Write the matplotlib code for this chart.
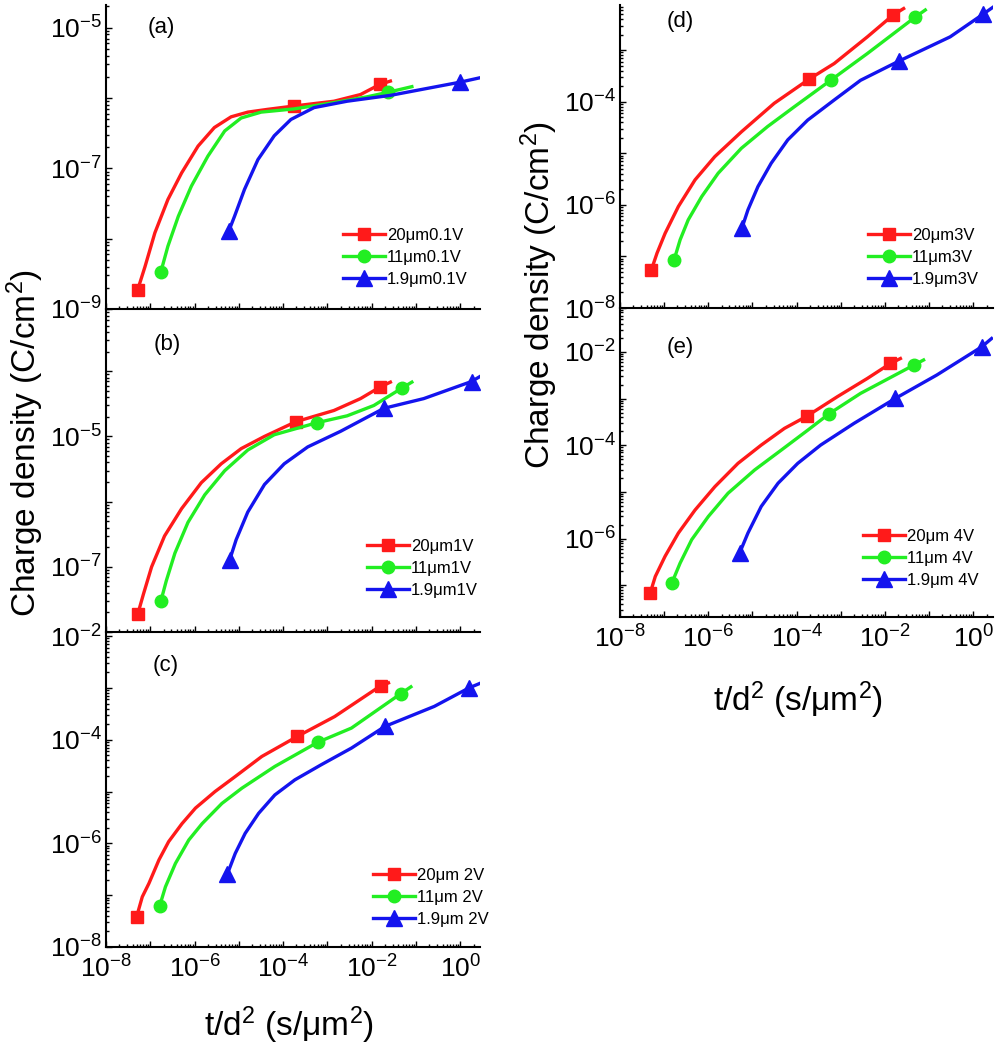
import numpy as np
import matplotlib
matplotlib.use('Agg')
import matplotlib.pyplot as plt
from matplotlib import ticker

plt.rcParams['font.family'] = ['Liberation Sans', 'DejaVu Sans']
plt.rcParams['mathtext.fontset'] = 'custom'
plt.rcParams['mathtext.rm'] = 'Liberation Sans'
plt.rcParams['mathtext.it'] = 'Liberation Sans:italic'
plt.rcParams['mathtext.default'] = 'regular'

# ---- data (t/d^2 in s/um^2, charge density in C/cm^2) ----
# (a) 0.1 V
a_red_x = [5.2e-8, 7.6e-8, 1.27e-7, 2.5e-7, 5.1e-7, 1.2e-6, 2.8e-6, 6.7e-6, 1.6e-5, 4.5e-5, 1.78e-4, 1.41e-3, 5.6e-3, 1.53e-2, 2.65e-2]
a_red_y = [1.88e-9, 4.0e-9, 1.21e-8, 3.6e-8, 8.6e-8, 2.07e-7, 3.8e-7, 5.4e-7, 6.3e-7, 6.9e-7, 7.7e-7, 9.0e-7, 1.12e-6, 1.56e-6, 1.74e-6]
a_green_x = [1.74e-7, 2.5e-7, 4.3e-7, 8.5e-7, 2.0e-6, 4.8e-6, 1.13e-5, 3.2e-5, 1.78e-4, 1.41e-3, 7.9e-3, 2.4e-2, 8.1e-2]
a_green_y = [3.4e-9, 7.8e-9, 2.08e-8, 5.6e-8, 1.49e-7, 3.4e-7, 5.2e-7, 6.3e-7, 7.0e-7, 8.6e-7, 1.04e-6, 1.21e-6, 1.45e-6]
a_blue_x = [5.9e-6, 8.0e-6, 1.34e-5, 2.7e-5, 6.3e-5, 1.5e-4, 5.0e-4, 2.8e-3, 2.65e-2, 1.0, 2.8]
a_blue_y = [1.27e-8, 2.08e-8, 5.0e-8, 1.33e-7, 2.9e-7, 4.95e-7, 7.3e-7, 9.0e-7, 1.09e-6, 1.68e-6, 1.94e-6]
a_marks = [[0, 10, 13], [0, 11], [0, 9]]

# (b) 1 V
b_red_x = [5.2e-8, 7.0e-8, 1.07e-7, 2.1e-7, 5.1e-7, 1.42e-6, 4.0e-6, 1.13e-5, 3.8e-5, 1.94e-4, 1.41e-3, 5.6e-3, 1.53e-2, 2.65e-2]
b_red_y = [1.87e-8, 3.8e-8, 9.95e-8, 2.97e-7, 7.8e-7, 1.95e-6, 3.8e-6, 6.5e-6, 1.0e-5, 1.68e-5, 2.5e-5, 3.8e-5, 5.7e-5, 6.8e-5]
b_green_x = [1.74e-7, 2.3e-7, 3.6e-7, 7.1e-7, 1.7e-6, 4.8e-6, 1.6e-5, 6.3e-5, 5.75e-4, 2.8e-3, 1.12e-2, 4.8e-2, 8.1e-2]
b_green_y = [3.0e-8, 6.1e-8, 1.62e-7, 4.8e-7, 1.27e-6, 2.98e-6, 6.2e-6, 1.06e-5, 1.62e-5, 2.07e-5, 2.98e-5, 5.5e-5, 6.8e-5]
b_blue_x = [6.2e-6, 8.7e-6, 1.59e-5, 3.8e-5, 1.06e-4, 3.6e-4, 2.0e-3, 1.9e-2, 0.15, 1.8, 2.8]
b_blue_y = [1.27e-7, 2.6e-7, 6.9e-7, 1.83e-6, 3.8e-6, 6.9e-6, 1.2e-5, 2.7e-5, 3.8e-5, 6.95e-5, 8.3e-5]
b_marks = [[0, 9, 12], [0, 8, 11], [0, 7, 9]]

# (c) 2 V
c_red_x = [4.9e-8, 6.6e-8, 9.3e-8, 1.57e-7, 2.6e-7, 5.2e-7, 1.05e-6, 2.9e-6, 8.3e-6, 3.3e-5, 2.1e-4, 1.46e-3, 1.63e-2, 2.4e-2]
c_red_y = [3.8e-8, 9.3e-8, 1.68e-7, 4.8e-7, 1.08e-6, 2.4e-6, 4.8e-6, 1.0e-5, 1.95e-5, 4.75e-5, 1.16e-4, 2.8e-4, 1.11e-3, 1.25e-3]
c_green_x = [1.62e-7, 2.2e-7, 3.7e-7, 7.4e-7, 1.48e-6, 4.15e-6, 1.17e-5, 6.5e-5, 6.0e-4, 3.5e-3, 4.6e-2, 7.7e-2]
c_green_y = [6.1e-8, 1.45e-7, 4.1e-7, 1.16e-6, 2.4e-6, 5.9e-6, 1.16e-5, 3.05e-5, 8.9e-5, 1.68e-4, 7.8e-4, 1.05e-3]
c_blue_x = [5.5e-6, 8.3e-6, 1.39e-5, 2.8e-5, 6.5e-5, 1.84e-4, 7.3e-4, 3.5e-3, 2.0e-2, 0.26, 1.58, 2.7]
c_blue_y = [2.55e-7, 6.4e-7, 1.56e-6, 3.8e-6, 8.6e-6, 1.68e-5, 3.3e-5, 6.9e-5, 1.81e-4, 4.4e-4, 1.0e-3, 1.21e-3]
c_marks = [[0, 10, 12], [0, 8, 10], [0, 8, 10]]

# (d) 3 V
d_red_x = [5.1e-8, 6.9e-8, 1.05e-7, 2.1e-7, 5.0e-7, 1.4e-6, 5.6e-6, 3.1e-5, 1.93e-4, 7.1e-4, 4.0e-3, 1.53e-2, 2.65e-2]
d_red_y = [5.4e-8, 1.16e-7, 2.8e-7, 9.3e-7, 3.05e-6, 8.6e-6, 2.6e-5, 9.3e-5, 2.75e-4, 5.5e-4, 1.81e-3, 4.8e-3, 6.4e-3]
d_green_x = [1.68e-7, 2.3e-7, 3.5e-7, 7.1e-7, 1.67e-6, 5.6e-6, 2.2e-5, 8.9e-5, 5.9e-4, 4.0e-3, 4.9e-2, 8.2e-2]
d_green_y = [8.6e-8, 2.1e-7, 5.1e-7, 1.45e-6, 4.1e-6, 1.25e-5, 3.3e-5, 8.0e-5, 2.6e-4, 8.6e-4, 4.4e-3, 6.0e-3]
d_blue_x = [5.8e-6, 7.9e-6, 1.33e-5, 2.65e-5, 6.3e-5, 1.78e-4, 7.1e-4, 2.8e-3, 2.05e-2, 0.3, 1.68, 2.8]
d_blue_y = [3.6e-7, 8.0e-7, 2.26e-6, 6.4e-6, 1.82e-5, 4.4e-5, 1.08e-4, 2.6e-4, 6.1e-4, 1.81e-3, 5.0e-3, 6.8e-3]
d_marks = [[0, 8, 11], [0, 8, 10], [0, 8, 10]]

# (e) 4 V
e_red_x = [4.84e-8, 6.3e-8, 1.05e-7, 2.1e-7, 5.0e-7, 1.41e-6, 4.7e-6, 1.58e-5, 5.3e-5, 1.71e-4, 8.4e-4, 4.0e-3, 1.33e-2, 2.24e-2]
e_red_y = [6.9e-8, 1.55e-7, 4.2e-7, 1.32e-6, 4.1e-6, 1.3e-5, 4.1e-5, 1.01e-4, 2.3e-4, 4.2e-4, 1.1e-3, 2.7e-3, 5.65e-3, 7.2e-3]
e_green_x = [1.49e-7, 2.3e-7, 4.2e-7, 1.0e-6, 2.8e-6, 1.12e-5, 4.5e-5, 1.78e-4, 5.4e-4, 2.8e-3, 4.5e-2, 7.5e-2]
e_green_y = [1.12e-7, 3.0e-7, 9.5e-7, 2.98e-6, 9.4e-6, 2.96e-5, 7.9e-5, 2.1e-4, 4.7e-4, 1.29e-3, 5.2e-3, 6.7e-3]
e_blue_x = [5.1e-6, 7.9e-6, 1.58e-5, 3.8e-5, 1.06e-4, 3.5e-4, 2.0e-3, 1.73e-2, 0.15, 1.55, 2.6]
e_blue_y = [4.9e-7, 1.32e-6, 4.9e-6, 1.54e-5, 4.1e-5, 1.01e-4, 2.95e-4, 1.01e-3, 3.2e-3, 1.28e-2, 1.93e-2]
e_marks = [[0, 9, 12], [0, 8, 10], [0, 7, 9]]

a_labels = ['20\u03bcm0.1V', '11\u03bcm0.1V', '1.9\u03bcm0.1V']
b_labels = ['20\u03bcm1V', '11\u03bcm1V', '1.9\u03bcm1V']
c_labels = ['20\u03bcm 2V', '11\u03bcm 2V', '1.9\u03bcm 2V']
d_labels = ['20\u03bcm3V', '11\u03bcm3V', '1.9\u03bcm3V']
e_labels = ['20\u03bcm 4V', '11\u03bcm 4V', '1.9\u03bcm 4V']

colors = ['#ff1a1a', '#22ee22', '#1414ee']
markers = ['s', 'o', '^']
msizes = [8.5, 9, 11]

W, H = 1003, 1050
fig = plt.figure(figsize=(W / 100, H / 100), dpi=100)


def px_axes(x0, y0, x1, y1):
    return fig.add_axes([x0 / W, 1 - y1 / H, (x1 - x0) / W, (y1 - y0) / H])


def sci_fmt(parity):
    def f(v, pos):
        e = int(round(np.log10(v)))
        if e % 2 == parity:
            return '$10^{%d}$' % e
        return ''
    return f


def panel(ax, series, marks, labels, ylim, ypar, tag, tagpos, legpos, xlabels):
    for (x, y), mk, col, m, ms, lab in zip(series, marks, colors, markers, msizes, labels):
        ax.plot(x, y, color=col, lw=2.4, marker=m, ms=ms, markevery=mk, label=lab,
                solid_joinstyle='round')
    ax.set_xscale('log')
    ax.set_yscale('log')
    ax.set_xlim(1e-8, 2.8)
    ax.set_ylim(*ylim)
    for s in ['top', 'right']:
        ax.spines[s].set_visible(False)
    for s in ['left', 'bottom']:
        ax.spines[s].set_linewidth(1.5)
    for axis in [ax.xaxis, ax.yaxis]:
        axis.set_major_locator(ticker.LogLocator(base=10, subs=(1.0,), numticks=20))
        axis.set_minor_locator(ticker.LogLocator(base=10, subs=np.arange(2, 10), numticks=20))
    ax.yaxis.set_major_formatter(ticker.FuncFormatter(sci_fmt(ypar)))
    ax.yaxis.set_minor_formatter(ticker.NullFormatter())
    if xlabels:
        ax.xaxis.set_major_formatter(ticker.FuncFormatter(sci_fmt(0)))
    else:
        ax.xaxis.set_major_formatter(ticker.NullFormatter())
    ax.xaxis.set_minor_formatter(ticker.NullFormatter())
    ax.tick_params(which='both', direction='in', width=1, labelsize=19)
    ax.tick_params(which='major', length=4.5)
    ax.tick_params(which='minor', length=2.5)
    ax.tick_params(axis='y', pad=3)
    ax.tick_params(axis='x', pad=6)
    ax.set_facecolor('none')
    fig.text(tagpos[0] / W, 1 - tagpos[1] / H, tag, fontsize=16, ha='center', va='center')
    ax.legend(loc='upper left', bbox_to_anchor=(legpos[0] / W, 1 - legpos[1] / H),
              bbox_transform=fig.transFigure, frameon=False, fontsize=12,
              handlelength=2.5, handletextpad=0.15, labelspacing=0.42,
              borderpad=0, borderaxespad=0, numpoints=1)


ax_a = px_axes(106, 5, 480, 309)
ax_b = px_axes(106, 309, 480, 632)
ax_c = px_axes(106, 632, 480, 947)
ax_d = px_axes(620, 5, 993, 308)
ax_e = px_axes(620, 308, 993, 617)

panel(ax_a, [(a_red_x, a_red_y), (a_green_x, a_green_y), (a_blue_x, a_blue_y)], a_marks, a_labels,
      (1e-9, 2.1e-5), 1, '(a)', (161, 27), (343, 228), False)
panel(ax_b, [(b_red_x, b_red_y), (b_green_x, b_green_y), (b_blue_x, b_blue_y)], b_marks, b_labels,
      (1e-8, 9e-4), 1, '(b)', (167, 345), (367, 539), False)
panel(ax_c, [(c_red_x, c_red_y), (c_green_x, c_green_y), (c_blue_x, c_blue_y)], c_marks, c_labels,
      (1e-8, 1.2e-2), 0, '(c)', (166, 665), (373, 868), True)
panel(ax_d, [(d_red_x, d_red_y), (d_green_x, d_green_y), (d_blue_x, d_blue_y)], d_marks, d_labels,
      (1e-8, 7.5e-3), 0, '(d)', (680, 22), (868, 228), False)
panel(ax_e, [(e_red_x, e_red_y), (e_green_x, e_green_y), (e_blue_x, e_blue_y)], e_marks, e_labels,
      (2.1e-8, 8.7e-2), 0, '(e)', (680, 347), (863, 529), True)

ylab = 'Charge density (C/cm$^{2}$)'
xlab = 't/d$^{2}$ (s/\u03bcm$^{2}$)'
fig.text(25 / W, 1 - 443 / H, ylab, rotation=90, fontsize=24, ha='center', va='center')
fig.text(539 / W, 1 - 295 / H, ylab, rotation=90, fontsize=24, ha='center', va='center')
fig.text(289 / W, 1 - 1025 / H, xlab, fontsize=24, ha='center', va='center')
fig.text(798 / W, 1 - 700 / H, xlab, fontsize=24, ha='center', va='center')

fig.savefig('out.png', dpi=100)
